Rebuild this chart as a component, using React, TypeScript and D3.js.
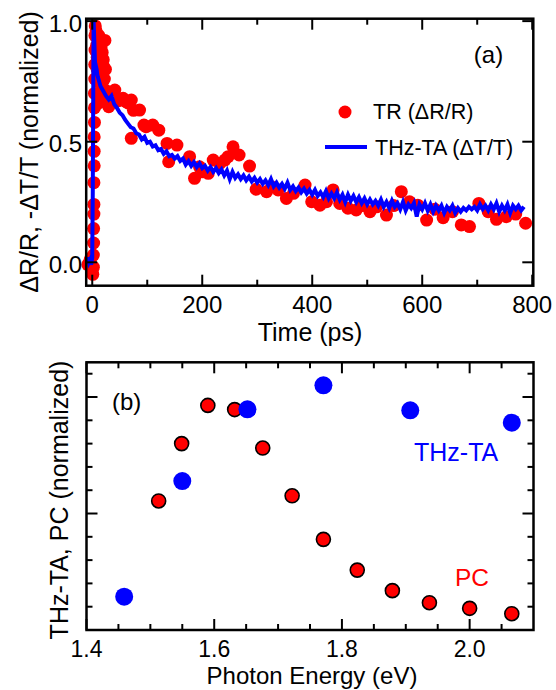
import React from 'react';
import * as d3 from 'd3';

// panel (a): transient reflectivity, [time ps, normalized dR/R]
const trPoints: [number, number][] = [
  [-8, -0.01], [-4, 0.01], [0, -0.03], [1, -0.05], [2, -0.02], [2, 0.03], [2.5, 0.08], [2.5, 0.14],
  [3, 0.2], [3, 0.24], [3, 0.33], [3.5, 0.4], [3.5, 0.46], [3.5, 0.52], [4, 0.58], [4, 0.64],
  [4, 0.7], [4.5, 0.76], [4.5, 0.82], [5, 0.88], [5, 0.94], [5.5, 0.98],
  [7, 0.96], [8, 0.9], [9, 0.85], [9, 0.8], [10, 0.75], [10, 0.7], [11, 0.66], [12, 0.94],
  [14, 0.92], [16, 0.89], [18, 0.87], [20, 0.84], [21, 0.81], [23, 0.92], [24, 0.8], [15, 0.776],
  [18, 0.742], [22, 0.76], [26, 0.71], [27, 0.68], [30, 0.645],
  [41, 0.714], [48, 0.67], [56, 0.68], [62, 0.665], [66, 0.66], [71, 0.673], [75, 0.63], [71, 0.514],
  [86, 0.631], [94, 0.569], [98, 0.562], [110, 0.569], [121, 0.548], [136, 0.493], [139, 0.417],
  [154, 0.486], [177, 0.438], [186, 0.348], [195, 0.396], [201, 0.375], [211, 0.369], [220, 0.424],
  [232, 0.41], [241, 0.424], [247, 0.438], [256, 0.479], [267, 0.445], [286, 0.399], [298, 0.303],
  [317, 0.293], [326, 0.313], [338, 0.3], [353, 0.265], [366, 0.286], [387, 0.32], [399, 0.251],
  [414, 0.237], [426, 0.251], [438, 0.3], [450, 0.244], [465, 0.224], [480, 0.217], [492, 0.235],
  [505, 0.21], [517, 0.23], [535, 0.196], [548, 0.235], [562, 0.293], [577, 0.251], [592, 0.237],
  [608, 0.175], [623, 0.22], [638, 0.185], [655, 0.21], [671, 0.155], [686, 0.148], [703, 0.244],
  [720, 0.21], [735, 0.178], [753, 0.189], [770, 0.2], [788, 0.162],
];

// panel (a): THz transient absorption, [time ps, normalized -dT/T]
const thzTrace: [number, number][] = [
  [-10, 0.0], [-8, 0.02], [-6, 0.0], [-4, 0.01], [-2, -0.01], [0, 0.02], [1, 0.3], [2, 0.8],
  [2.5, 1.0], [4, 0.9], [5, 0.83], [6, 0.82], [7, 0.81], [8, 0.8], [9, 0.78], [10, 0.77],
  [15, 0.73], [20, 0.71], [25, 0.69], [30, 0.675], [35, 0.69], [40, 0.655], [45, 0.64], [50, 0.62],
  [55, 0.61], [60, 0.59], [65, 0.575], [70, 0.56], [75, 0.555], [80, 0.535], [85, 0.53], [90, 0.51],
  [95, 0.52], [100, 0.495], [105, 0.5], [110, 0.48], [115, 0.485], [120, 0.465], [125, 0.47],
  [130, 0.45], [135, 0.46], [140, 0.44], [145, 0.445], [150, 0.43], [155, 0.44], [160, 0.42],
  [165, 0.43], [170, 0.405], [175, 0.42], [180, 0.4], [185, 0.415], [190, 0.395], [195, 0.41],
  [200, 0.39], [205, 0.4], [210, 0.38], [215, 0.395], [220, 0.375], [225, 0.39], [230, 0.37],
  [235, 0.385], [240, 0.36], [245, 0.38], [250, 0.345], [255, 0.375], [260, 0.35], [265, 0.365],
  [270, 0.345], [275, 0.36], [280, 0.34], [285, 0.355], [290, 0.335], [295, 0.35], [300, 0.33],
  [305, 0.345], [310, 0.325], [315, 0.34], [320, 0.32], [325, 0.345], [330, 0.315], [335, 0.33],
  [340, 0.31], [345, 0.325], [350, 0.305], [355, 0.33], [360, 0.3], [365, 0.315], [370, 0.295],
  [375, 0.31], [380, 0.29], [385, 0.305], [390, 0.285], [395, 0.3], [400, 0.28], [405, 0.3],
  [410, 0.275], [415, 0.29], [420, 0.27], [425, 0.295], [430, 0.265], [435, 0.285], [440, 0.265],
  [445, 0.29], [450, 0.26], [455, 0.28], [460, 0.25], [465, 0.28], [470, 0.255], [475, 0.275],
  [480, 0.25], [485, 0.27], [490, 0.245], [495, 0.265], [500, 0.24], [505, 0.26], [510, 0.24],
  [515, 0.255], [520, 0.235], [525, 0.26], [530, 0.23], [535, 0.25], [540, 0.225], [545, 0.255],
  [550, 0.23], [555, 0.245], [560, 0.22], [565, 0.25], [570, 0.215], [575, 0.24], [580, 0.225],
  [585, 0.245], [590, 0.19], [595, 0.24], [600, 0.22], [605, 0.245], [610, 0.215], [615, 0.24],
  [620, 0.21], [625, 0.235], [630, 0.215], [635, 0.235], [640, 0.205], [645, 0.23], [650, 0.215],
  [655, 0.235], [660, 0.205], [665, 0.225], [670, 0.21], [675, 0.225], [680, 0.215], [685, 0.23],
  [690, 0.22], [695, 0.23], [700, 0.215], [705, 0.24], [710, 0.22], [715, 0.235], [720, 0.215],
  [725, 0.24], [730, 0.22], [735, 0.245], [740, 0.21], [745, 0.235], [750, 0.215], [755, 0.24],
  [760, 0.205], [765, 0.235], [770, 0.22], [775, 0.235], [780, 0.215], [785, 0.23],
];

// panel (b): photoconductivity spectrum
const pcEnergy = [1.513, 1.549, 1.59, 1.632, 1.676, 1.722, 1.771, 1.824, 1.879, 1.937, 2.0, 2.066];
const pcValue = [0.554, 0.8, 0.964, 0.946, 0.781, 0.576, 0.389, 0.257, 0.169, 0.117, 0.093, 0.07];

// panel (b): THz-TA spectrum
const thzEnergy = [1.459, 1.55, 1.652, 1.771, 1.907, 2.066];
const thzValue = [0.143, 0.639, 0.947, 1.05, 0.943, 0.89];

const timeMajor = [0, 200, 400, 600, 800];
const timeMinor = [100, 300, 500, 700];
const signalMajor = [0, 0.5, 1.0];
const energyMajor = [1.4, 1.6, 1.8, 2.0];
const energyMinor = [1.45, 1.5, 1.55, 1.65, 1.7, 1.75, 1.85, 1.9, 1.95, 2.05];
const specMajor = [0, 0.5, 1.0];
const specMinor = [0.1, 0.2, 0.3, 0.4, 0.6, 0.7, 0.8, 0.9, 1.1];

const FONT = 'Liberation Sans, Arial, Helvetica, sans-serif';
const RED = '#ff0000';
const BLUE = '#0000ff';

type Lin = d3.ScaleLinear<number, number>;

// ticks pointing inward on all four sides of a frame
function Ticks({ x, y, xMajor, xMinor, yMajor, yMinor }: {
  x: Lin; y: Lin; xMajor: number[]; xMinor: number[]; yMajor: number[]; yMinor: number[];
}) {
  const [x0, x1] = x.range();
  const [y0, y1] = y.range(); // y0 bottom, y1 top
  const big = 11;
  const small = 6;
  const lines: JSX.Element[] = [];
  const addX = (v: number, len: number, k: string) => {
    const px = x(v);
    lines.push(<line key={'xb' + k} x1={px} x2={px} y1={y0} y2={y0 - len} />);
    lines.push(<line key={'xt' + k} x1={px} x2={px} y1={y1} y2={y1 + len} />);
  };
  const addY = (v: number, len: number, k: string) => {
    const py = y(v);
    lines.push(<line key={'yl' + k} x1={x0} x2={x0 + len} y1={py} y2={py} />);
    lines.push(<line key={'yr' + k} x1={x1} x2={x1 - len} y1={py} y2={py} />);
  };
  xMajor.forEach((v, i) => addX(v, big, 'M' + i));
  xMinor.forEach((v, i) => addX(v, small, 'm' + i));
  yMajor.forEach((v, i) => addY(v, big, 'M' + i));
  yMinor.forEach((v, i) => addY(v, small, 'm' + i));
  return <g stroke="#000" strokeWidth={2}>{lines}</g>;
}

export default function App() {
  // panel (a) scales
  const xa = d3.scaleLinear().domain([-11, 802]).range([86.2, 533.3]);
  const ya = d3.scaleLinear().domain([-0.097, 1.01]).range([285.7, 18.7]);
  // panel (b) scales
  const xb = d3.scaleLinear().domain([1.4, 2.1]).range([86.5, 533.5]);
  const yb = d3.scaleLinear().domain([0, 1.149]).range([630, 362.3]);

  const thzLine = d3.line<[number, number]>().x(d => xa(d[0])).y(d => ya(d[1]));

  return (
    <svg width={556} height={690} style={{ position: 'absolute', left: 0, top: 0, background: '#fff' }}
      fontFamily={FONT}>
      {/* ---------- panel (a) ---------- */}
      <g>
        {trPoints.map((d, i) => (
          <circle key={i} cx={xa(d[0])} cy={ya(d[1])} r={6.5} fill={RED} />
        ))}
        <path d={thzLine(thzTrace) || ''} fill="none" stroke={BLUE} strokeWidth={4} strokeLinejoin="miter" />
        <Ticks x={xa} y={ya} xMajor={timeMajor} xMinor={timeMinor} yMajor={signalMajor} yMinor={[]} />
        <rect x={86.2} y={18.7} width={533.3 - 86.2} height={285.7 - 18.7} fill="none" stroke="#000" strokeWidth={2.5} />
        {timeMajor.map(t => (
          <text key={t} x={xa(t)} y={313} textAnchor="middle" fontSize={24}>{t}</text>
        ))}
        {signalMajor.map(v => (
          <text key={v} x={82} y={ya(v) + 10.5} textAnchor="end" fontSize={24}>{v.toFixed(1)}</text>
        ))}
        <text x={310} y={341} textAnchor="middle" fontSize={25}>Time (ps)</text>
        <text transform="translate(38,152) rotate(-90)" textAnchor="middle" fontSize={25}>
          ΔR/R, -ΔT/T (normalized)
        </text>
        <text x={488.5} y={63} textAnchor="middle" fontSize={24}>(a)</text>
        {/* legend */}
        <circle cx={345} cy={112} r={6.5} fill={RED} />
        <text x={373} y={118.5} fontSize={21.5}>TR (ΔR/R)</text>
        <line x1={325} x2={367} y1={147} y2={147} stroke={BLUE} strokeWidth={4} />
        <text x={375} y={155} fontSize={21.5}>THz-TA (ΔT/T)</text>
      </g>

      {/* ---------- panel (b) ---------- */}
      <g>
        <Ticks x={xb} y={yb} xMajor={energyMajor} xMinor={energyMinor} yMajor={specMajor} yMinor={specMinor} />
        <rect x={86.5} y={362.3} width={533.5 - 86.5} height={630 - 362.3} fill="none" stroke="#000" strokeWidth={2.5} />
        {pcEnergy.map((e, i) => (
          <circle key={'pc' + i} cx={xb(e)} cy={yb(pcValue[i])} r={7} fill={RED} stroke="#000" strokeWidth={1.6} />
        ))}
        {thzEnergy.map((e, i) => (
          <circle key={'th' + i} cx={xb(e)} cy={yb(thzValue[i])} r={9} fill={BLUE} />
        ))}
        {energyMajor.map(e => (
          <text key={e} x={xb(e)} y={657} textAnchor="middle" fontSize={23}>{e.toFixed(1)}</text>
        ))}
        <text x={312} y={684} textAnchor="middle" fontSize={24}>Photon Energy (eV)</text>
        <text transform="translate(68,500) rotate(-90)" textAnchor="middle" fontSize={25}>
          THz-TA, PC (normalized)
        </text>
        <text x={126.7} y={410} textAnchor="middle" fontSize={24}>(b)</text>
        <text x={414} y={461} fontSize={25} fill={BLUE}>THz-TA</text>
        <text x={455} y={586} fontSize={24.5} fill={RED}>PC</text>
      </g>
    </svg>
  );
}
